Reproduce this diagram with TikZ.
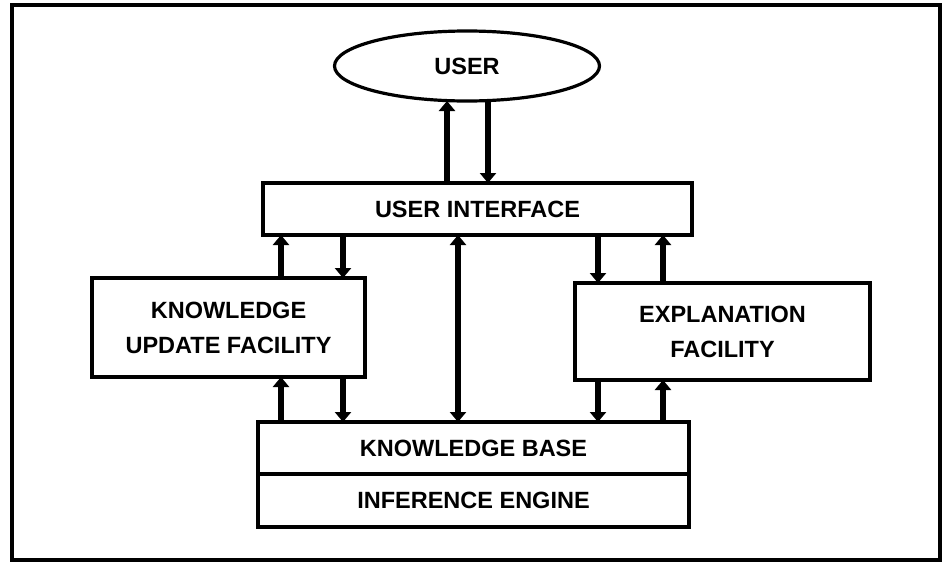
\documentclass[tikz,border=0pt]{standalone}
\usepackage{fontspec}
\setmainfont{Liberation Sans}
\usetikzlibrary{arrows.meta,shapes.geometric}
\begin{document}
\begin{tikzpicture}[x=1pt,y=-1pt,
  box/.style={draw,line width=3.2pt,inner sep=0pt,outer sep=0pt,font=\bfseries\fontsize{23.5}{35}\selectfont,align=center},
  flow/.style={line width=6.5pt,-{Triangle[width=16pt,length=10pt]}},
  flowboth/.style={line width=6.5pt,{Triangle[width=16pt,length=10pt]}-{Triangle[width=16pt,length=10pt]}}]
\useasboundingbox (0,0) rectangle (944,565);
% outer frame
\draw[line width=3.2pt] (12,5) rectangle (940,560);

% boxes
\node[box,shape=ellipse,minimum width=265pt,minimum height=70pt] (user) at (467,66) {USER};
\node[box,minimum width=429pt,minimum height=52pt] (ui) at (477.5,209) {USER INTERFACE};
\node[box,minimum width=273pt,minimum height=99pt] (kuf) at (228.5,327.5) {KNOWLEDGE\\UPDATE FACILITY};
\node[box,minimum width=295pt,minimum height=97pt] (ef) at (722.5,331.5) {EXPLANATION\\FACILITY};
\node[box,minimum width=431pt,minimum height=52pt] (kb) at (473.5,448) {KNOWLEDGE BASE};
\node[box,minimum width=431pt,minimum height=53pt,anchor=north] (ie) at (kb.south) {INFERENCE ENGINE};

% arrow columns
\coordinate (cu1) at (447,0);
\coordinate (cu2) at (488,0);
\coordinate (cl1) at (281,0);
\coordinate (cl2) at (343,0);
\coordinate (cm)  at (458,0);
\coordinate (cr1) at (598,0);
\coordinate (cr2) at (663,0);

% user <-> interface
\draw[flow] (ui.north -| cu1) -- (user.south -| cu1);
\draw[flow] (user.south -| cu2) -- (ui.north -| cu2);
% interface <-> update facility
\draw[flow] (kuf.north -| cl1) -- (ui.south -| cl1);
\draw[flow] (ui.south -| cl2) -- (kuf.north -| cl2);
% update facility <-> knowledge base
\draw[flow] (kb.north -| cl1) -- (kuf.south -| cl1);
\draw[flow] (kuf.south -| cl2) -- (kb.north -| cl2);
% interface <-> knowledge base
\draw[flowboth] (ui.south -| cm) -- (kb.north -| cm);
% interface <-> explanation facility
\draw[flow] (ui.south -| cr1) -- (ef.north -| cr1);
\draw[flow] (ef.north -| cr2) -- (ui.south -| cr2);
% explanation facility <-> knowledge base
\draw[flow] (ef.south -| cr1) -- (kb.north -| cr1);
\draw[flow] (kb.north -| cr2) -- (ef.south -| cr2);
\end{tikzpicture}
\end{document}
